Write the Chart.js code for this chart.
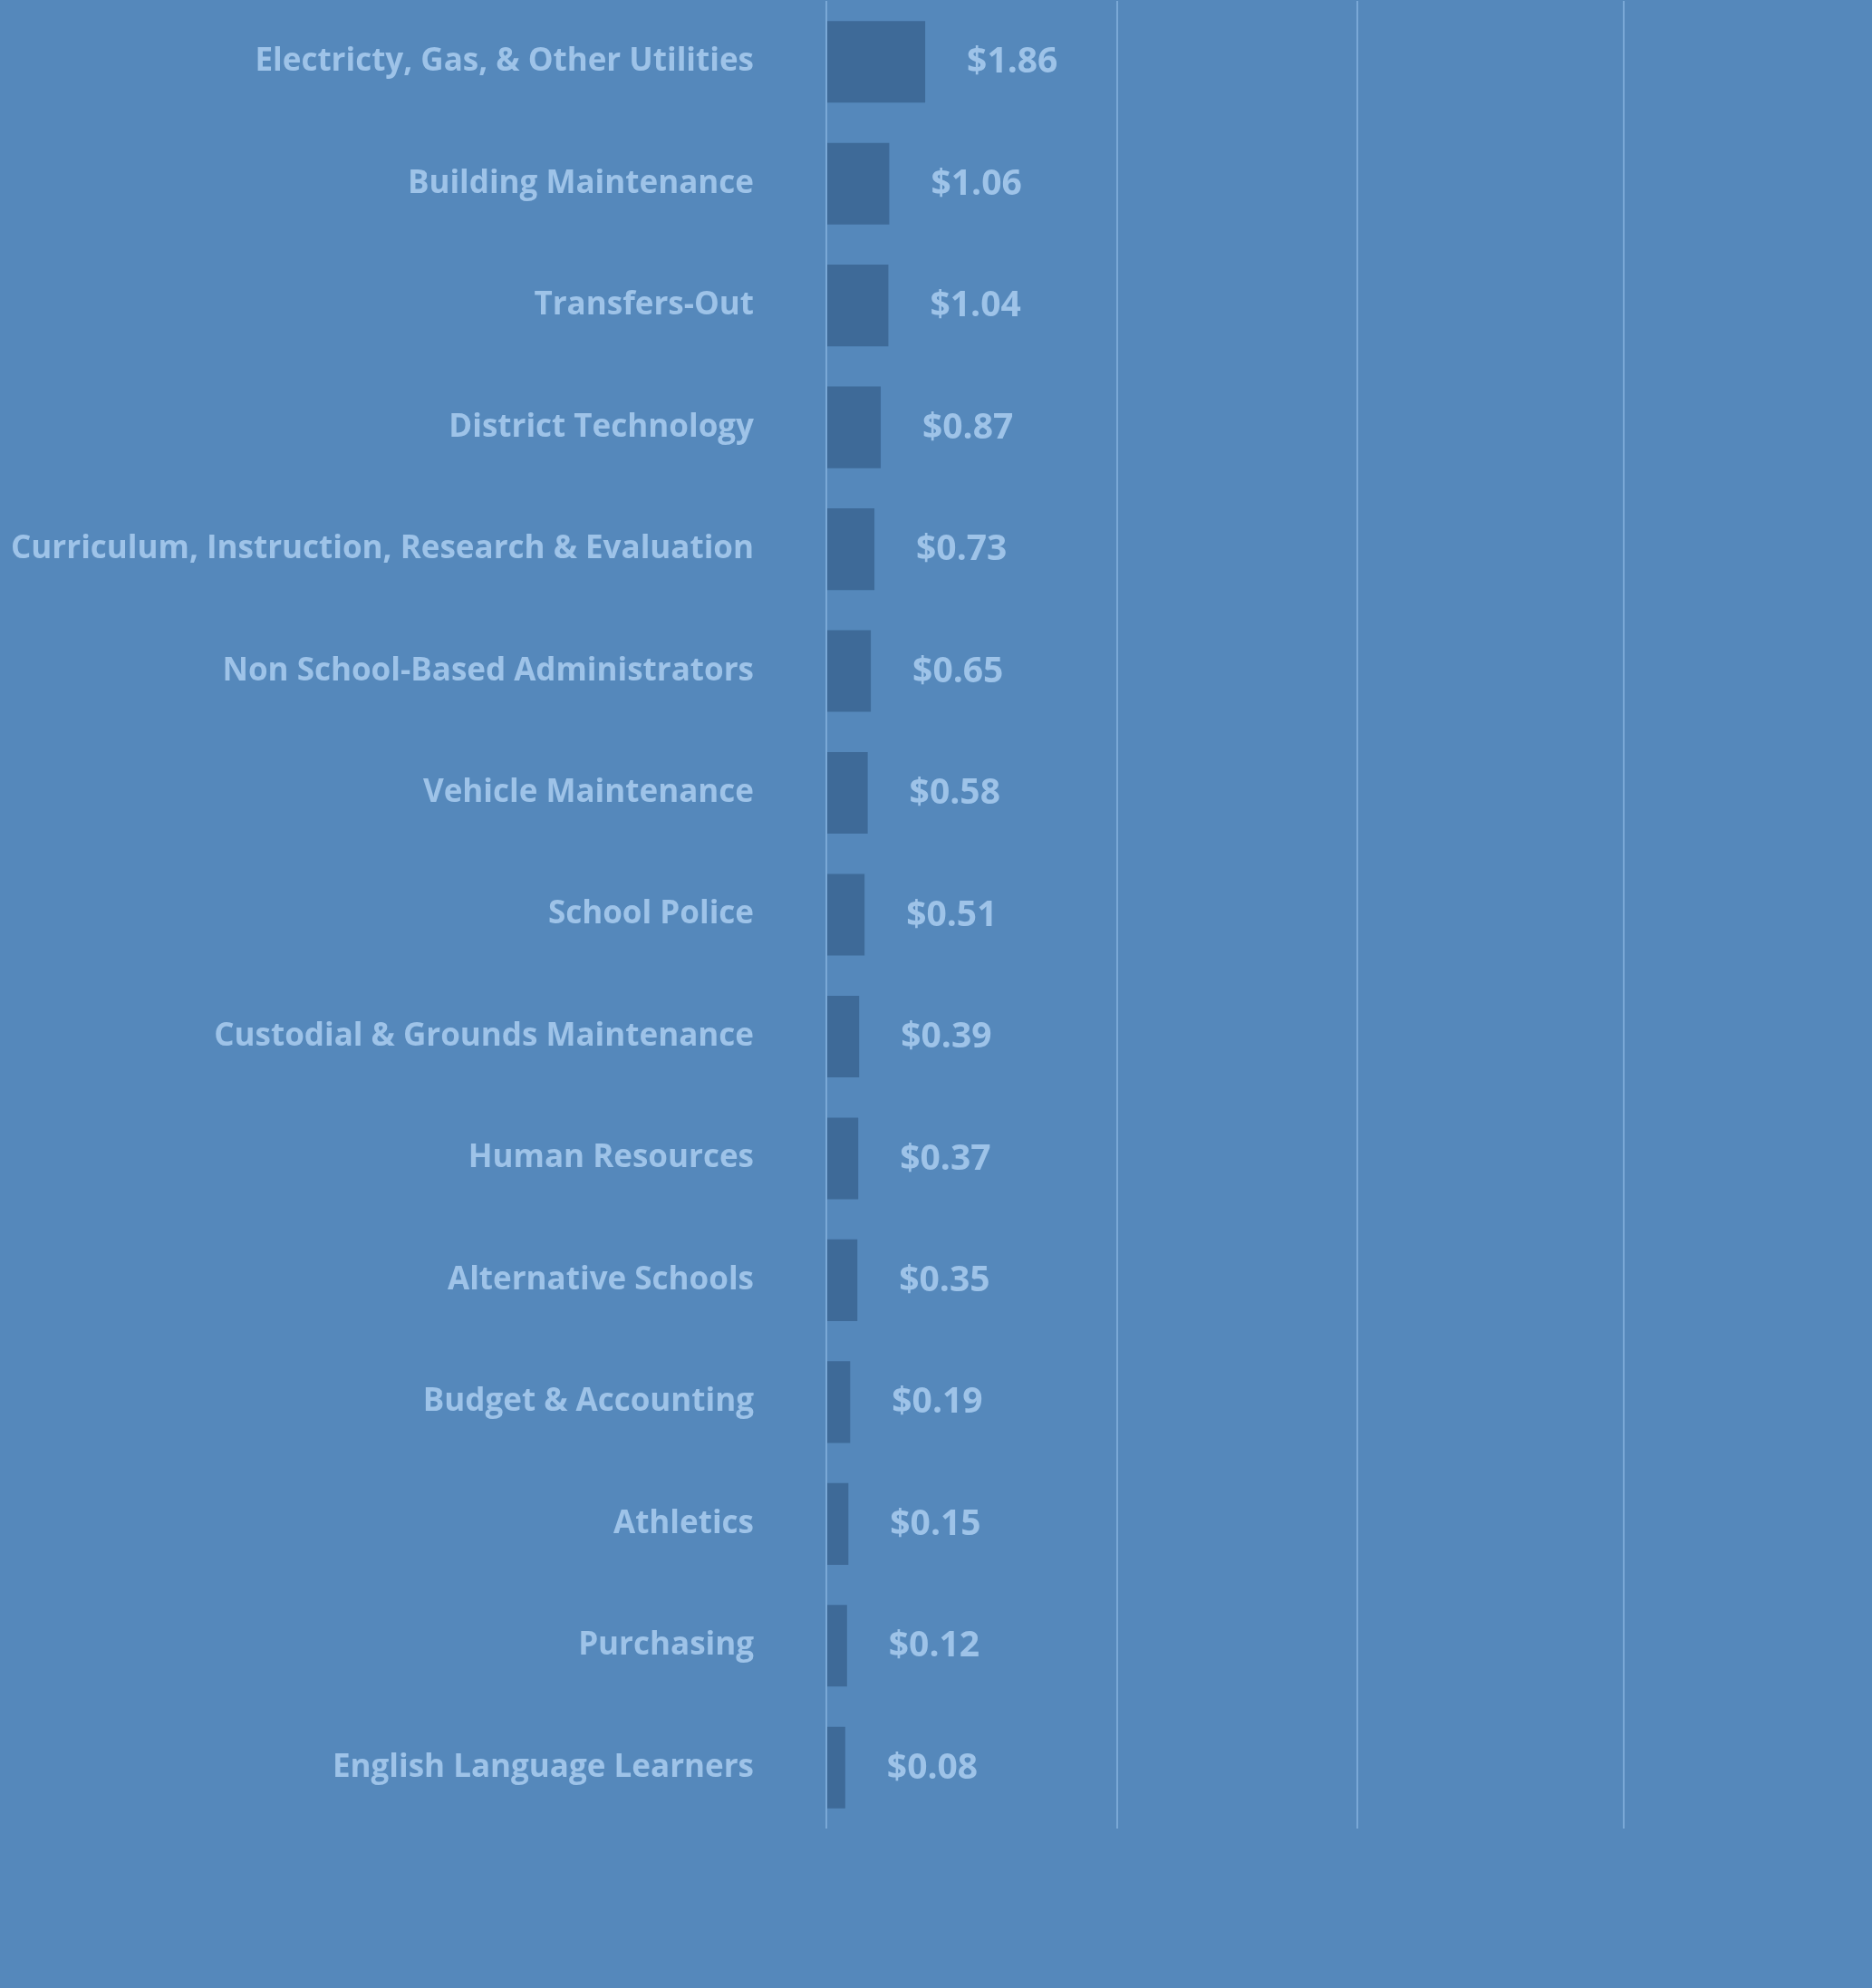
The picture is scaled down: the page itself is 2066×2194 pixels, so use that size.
<!DOCTYPE html>
<html lang="en">
<head>
<meta charset="UTF-8">
<meta name="viewport" content="width=device-width, initial-scale=1.0">
<title>Cost per dollar</title>
<script src="https://cdn.jsdelivr.net/npm/chart.js"></script>
<style>
    body {
        margin: 0;
        padding: 0;
        background-color: #5588bb;
    }

    .chart-box {
        position: relative;
        width: 2066px;
        height: 2194px;
    }
</style>
</head>
<body>
<div class="chart-box">
    <canvas id="costChart"></canvas>
</div>

<script>
    const categories = [
        'Electricty, Gas, & Other Utilities',
        'Building Maintenance',
        'Transfers-Out',
        'District Technology',
        'Curriculum, Instruction, Research & Evaluation',
        'Non School-Based Administrators',
        'Vehicle Maintenance',
        'School Police',
        'Custodial & Grounds Maintenance',
        'Human Resources',
        'Alternative Schools',
        'Budget & Accounting',
        'Athletics',
        'Purchasing',
        'English Language Learners'
    ];
    const amounts = [1.86, 1.06, 1.04, 0.87, 0.73, 0.65, 0.58, 0.51, 0.39, 0.37, 0.35, 0.19, 0.15, 0.12, 0.08];

    // the original bars start a bit left of zero, so the axis starts there too
    const axisMin = -0.34;
    const axisMax = 22.93;
    const guideTicks = [6.13, 11.47, 17.40];

    const textColor = '#9ec3e8';
    const barColor = '#3e6a98';
    const lineColor = '#7aa8d6';

    // draws "$x.xx" to the right of each bar
    const valueLabels = {
        id: 'valueLabels',
        afterDatasetsDraw(chart) {
            const ctx = chart.ctx;
            const meta = chart.getDatasetMeta(0);
            ctx.save();
            ctx.font = 'bold 39px "Open Sans"';
            ctx.fillStyle = textColor;
            ctx.textAlign = 'left';
            ctx.textBaseline = 'middle';
            meta.data.forEach((bar, i) => {
                ctx.fillText('$' + amounts[i].toFixed(2), bar.x + 46, bar.y + 1);
            });
            ctx.restore();
        }
    };

    const ctx = document.getElementById('costChart').getContext('2d');
    new Chart(ctx, {
        type: 'bar',
        data: {
            labels: categories,
            datasets: [{
                data: amounts,
                base: axisMin,
                backgroundColor: barColor,
                borderWidth: 0,
                categoryPercentage: 1.0,
                barPercentage: 0.67
            }]
        },
        options: {
            indexAxis: 'y',
            responsive: true,
            maintainAspectRatio: false,
            animation: false,
            layout: {
                padding: { top: 1, bottom: 176, left: 0, right: 0 }
            },
            plugins: {
                legend: { display: false },
                tooltip: { enabled: false }
            },
            scales: {
                x: {
                    min: axisMin,
                    max: axisMax,
                    afterBuildTicks: (scale) => {
                        scale.ticks = [axisMin].concat(guideTicks).map(v => ({ value: v }));
                    },
                    ticks: { display: false },
                    border: { display: false },
                    grid: {
                        color: lineColor,
                        lineWidth: 2,
                        drawTicks: false
                    }
                },
                y: {
                    afterFit: (scale) => { scale.width = 912; },
                    border: { display: false },
                    // hidden tick marks keep the labels 80px off the axis
                    grid: { display: false, drawTicks: true, tickLength: 80 },
                    ticks: {
                        color: textColor,
                        padding: 0,
                        autoSkip: false,
                        font: { family: '"Open Sans"', size: 35, weight: 'bold', lineHeight: 0.05 }
                    }
                }
            }
        },
        plugins: [valueLabels]
    });
</script>
</body>
</html>
